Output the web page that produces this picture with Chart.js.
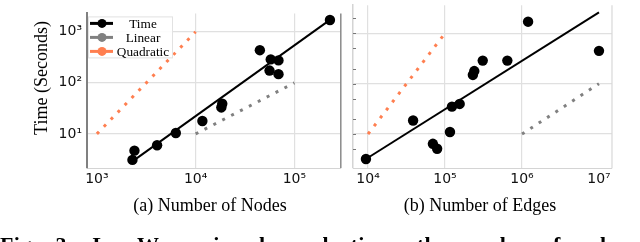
<!DOCTYPE html>
<html lang="en">
<head>
<meta charset="UTF-8">
<script src="https://cdn.jsdelivr.net/npm/chart.js"></script>
<title>LinkWaldo running time</title>
<style>
  html, body { margin: 0; padding: 0; background: #fff; }
  body { width: 640px; height: 242px; position: relative; overflow: hidden; font-family: "Liberation Serif", serif; color: #000; }
  .panel { position: absolute; top: 0; height: 242px; }
  #left { left: 0; width: 346px; }
  #right { left: 346px; width: 294px; }
  .xtitle { position: absolute; top: 196px; width: 220px; text-align: center; font-size: 18px; line-height: 18px; white-space: nowrap; }
  #ytitle { position: absolute; left: -59px; top: 69px; width: 200px; text-align: center; font-size: 18px; line-height: 18px; white-space: nowrap; transform: rotate(-90deg); }
  #caption { position: absolute; left: 0; top: 234px; font-size: 22px; line-height: 22px; font-weight: bold; white-space: pre; letter-spacing: 0.4px; word-spacing: 3px; }
  .sc { font-variant: small-caps; }
</style>
</head>
<body>
<div class="panel" id="left"><canvas id="nodesChart"></canvas></div>
<div class="panel" id="right"><canvas id="edgesChart"></canvas></div>
<div id="ytitle">Time (Seconds)</div>
<div class="xtitle" style="left:100px">(a) Number of Nodes</div>
<div class="xtitle" style="left:370px">(b) Number of Edges</div>
<div id="caption">Fig.  3:  L<span class="sc">ink</span>W<span class="sc">aldo</span> is sub-quadratic on the number of nodes</div>

<script>
// running time per graph
const nodeCounts = [2290, 2400, 4070, 6300, 11700, 18200, 18600, 44700, 56000, 57600, 69000, 69000, 229000];
const nodeTimes  = [3.1, 4.7, 6.0, 10.4, 17.9, 33, 39, 436, 174, 288, 275, 148, 1700];
const edgeCounts = [9400, 38500, 69600, 79000, 116000, 123000, 155000, 230000, 240000, 309000, 645000, 1200000, 10000000];
const edgeTimes  = [3.2, 18.6, 6.4, 5.1, 11, 35, 39.6, 149, 178, 287, 287, 1700, 448];

// fitted line and reference slopes
const nodeFitX = [2290, 229000];
const nodeFitY = [2.9, 1710];
const edgeFitX = [9400, 10000000];
const edgeFitY = [3.2, 2600];
const nodeLinearX = [10000, 100000];
const nodeQuadX = [1000, 10000];
const edgeLinearX = [1000000, 10000000];
const edgeQuadX = [10000, 100000];
const linearY = [10, 100];
const quadY = [10, 1000];

const legendLabels = ['Time', 'Linear', 'Quadratic'];
const nodeTicks = [1000, 10000, 100000];
const edgeTicks = [10000, 100000, 1000000, 10000000];
const timeTicks = [10, 100, 1000];
const edgeMinorTicks = [5, 10, 20, 50, 100, 200, 500, 1000, 2000];

const BLACK = '#000000';
const GREY = '#808080';
const ORANGE = '#ff7f50';
const GRID = '#e0e0e0';
const SUP = '⁰¹²³⁴⁵⁶⁷⁸⁹';

function powLabel(v) {
    return '10' + SUP[Math.round(Math.log10(v))];
}

function pts(xs, ys) {
    return xs.map((x, i) => ({ x: x, y: ys[i] }));
}

function makeDatasets(xs, ys, fitX, fitY, linX, quadX) {
    return [
        { label: 'Time', data: pts(xs, ys), showLine: false, pointRadius: 5.2, pointHoverRadius: 5.2,
          backgroundColor: BLACK, borderColor: BLACK, borderWidth: 0 },
        { label: 'fit', data: pts(fitX, fitY), showLine: true, pointRadius: 0, borderColor: BLACK, borderWidth: 2 },
        { label: 'Linear', data: pts(linX, linearY), showLine: true, pointRadius: 0, borderColor: GREY,
          borderWidth: 3, borderDash: [3, 7], borderCapStyle: 'butt' },
        { label: 'Quadratic', data: pts(quadX, quadY), showLine: true, pointRadius: 0, borderColor: ORANGE,
          borderWidth: 3, borderDash: [3, 7], borderCapStyle: 'butt' }
    ];
}

const tickFont = { family: 'DejaVu Sans', size: 14 };

function logAxis(min, max, ticks, hiddenGrid) {
    return {
        type: 'logarithmic', min: min, max: max,
        afterBuildTicks: s => { s.ticks = ticks.map(v => ({ value: v })); },
        ticks: { callback: v => powLabel(v), font: tickFont, color: '#111', autoSkip: false, maxRotation: 0 },
        grid: { color: c => (c.tick && c.tick.value === hiddenGrid) ? 'rgba(0,0,0,0)' : GRID, lineWidth: 1.2, drawTicks: false }
    };
}

// legend drawn inside the left panel
const legendBox = {
    id: 'legendBox',
    afterDraw(chart) {
        const ctx = chart.ctx;
        const a = chart.chartArea;
        const colors = [BLACK, GREY, ORANGE];
        ctx.save();
        ctx.fillStyle = 'rgba(255,255,255,0.9)';
        ctx.fillRect(a.left + 1, a.top + 3, 85, 42);
        ctx.strokeStyle = '#e2e2e2';
        ctx.lineWidth = 1;
        ctx.strokeRect(a.left + 1.5, a.top + 3.5, 84, 41);
        legendLabels.forEach((lab, i) => {
            const y = a.top + 10 + i * 14;
            ctx.strokeStyle = colors[i];
            ctx.fillStyle = colors[i];
            ctx.lineWidth = 3;
            ctx.beginPath();
            ctx.moveTo(a.left + 3, y);
            ctx.lineTo(a.left + 26, y);
            ctx.stroke();
            ctx.beginPath();
            ctx.arc(a.left + 15, y, 4.5, 0, Math.PI * 2);
            ctx.fill();
            ctx.fillStyle = '#000';
            ctx.font = '13.3px "Liberation Serif"';
            ctx.textAlign = 'center';
            ctx.textBaseline = 'middle';
            ctx.fillText(lab, a.left + 56, y + 1);
        });
        ctx.restore();
    }
};

// extra frame lines matching the figure
function frame(color, width, minor) {
    return {
        id: 'frame',
        beforeDatasetsDraw(chart) {
            const ctx = chart.ctx;
            const a = chart.chartArea;
            ctx.save();
            ctx.strokeStyle = color;
            ctx.lineWidth = width;
            ctx.beginPath();
            ctx.moveTo(a.right, a.top);
            ctx.lineTo(a.right, a.bottom);
            ctx.stroke();
            if (minor) {
                ctx.strokeStyle = '#777';
                ctx.lineWidth = 1;
                minor.forEach(v => {
                    const y = Math.round(chart.scales.y.getPixelForValue(v)) + 0.5;
                    ctx.beginPath();
                    ctx.moveTo(a.left, y);
                    ctx.lineTo(a.left + 3, y);
                    ctx.stroke();
                });
            }
            ctx.restore();
        }
    };
}

const nodeX = logAxis(794, 295000, nodeTicks, 1000);
nodeX.afterFit = s => { s.height = 74; };
nodeX.ticks.padding = 3;
nodeX.border = { color: '#d4d4d4', width: 1 };
const nodeY = logAxis(2.15, 2290, timeTicks, null);
nodeY.afterFit = s => { s.width = 87; };
nodeY.ticks.padding = 5;
nodeY.border = { color: '#808080', width: 2 };

new Chart(document.getElementById('nodesChart'), {
    type: 'scatter',
    data: { datasets: makeDatasets(nodeCounts, nodeTimes, nodeFitX, nodeFitY, nodeLinearX, nodeQuadX) },
    options: {
        responsive: true, maintainAspectRatio: false, animation: false,
        layout: { padding: { left: 0, right: 2, top: 0, bottom: 0 } },
        plugins: { legend: { display: false }, tooltip: { enabled: false } },
        scales: { x: nodeX, y: nodeY }
    },
    plugins: [frame('#8a8a8a', 1.5, null), legendBox]
});

const edgeX = logAxis(6380, 14760000, edgeTicks, 10000000);
edgeX.afterFit = s => { s.height = 74; };
edgeX.ticks.padding = 3;
edgeX.border = { color: '#d4d4d4', width: 1 };
const edgeY = logAxis(2.12, 3610, timeTicks, null);
edgeY.afterFit = s => { s.width = 7; };
edgeY.ticks.display = false;
edgeY.border = { color: '#d4d4d4', width: 1.5 };

new Chart(document.getElementById('edgesChart'), {
    type: 'scatter',
    data: { datasets: makeDatasets(edgeCounts, edgeTimes, edgeFitX, edgeFitY, edgeLinearX, edgeQuadX) },
    options: {
        responsive: true, maintainAspectRatio: false, animation: false,
        layout: { padding: { left: 0, right: 28, top: 0, bottom: 0 } },
        plugins: { legend: { display: false }, tooltip: { enabled: false } },
        scales: { x: edgeX, y: edgeY }
    },
    plugins: [frame('#d8d8d8', 1.2, edgeMinorTicks)]
});
</script>
</body>
</html>
